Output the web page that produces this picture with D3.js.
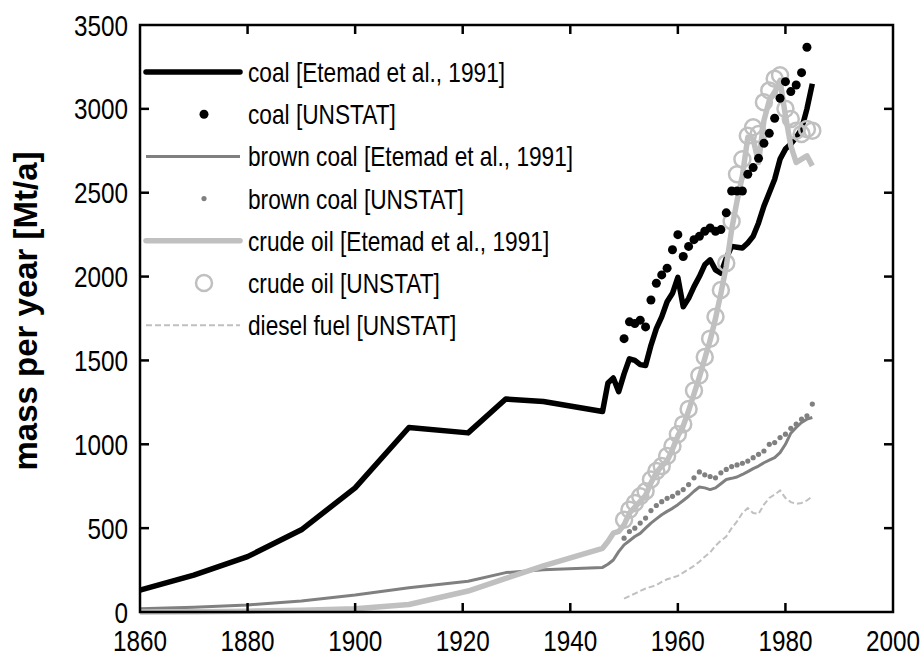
<!DOCTYPE html>
<html>
<head>
<meta charset="utf-8">
<script src="https://cdn.jsdelivr.net/npm/d3@7"></script>
<style>
  html, body { margin: 0; padding: 0; background: #fff; }
  svg { display: block; }
  text { font-family: "Liberation Sans", Arial, sans-serif; fill: #000; }
</style>
</head>
<body>
<svg id="chart" width="924" height="672"></svg>
<script>
// ---------------- data ----------------
const etemadYears = [1860, 1870, 1880, 1890, 1900, 1910, 1921, 1928, 1935, 1946,
  1947, 1948, 1949, 1950, 1951, 1952, 1953, 1954, 1955, 1956, 1957, 1958, 1959,
  1960, 1961, 1962, 1963, 1964, 1965, 1966, 1967, 1968, 1969, 1970, 1971, 1972,
  1973, 1974, 1975, 1976, 1977, 1978, 1979, 1980, 1981, 1982, 1983, 1984, 1985];

const coalEtemad = [130, 220, 330, 490, 740, 1100, 1068, 1270, 1255, 1195,
  1365, 1395, 1314, 1420, 1510, 1500, 1475, 1470, 1590, 1690, 1760, 1850, 1900,
  1995, 1820, 1870, 1940, 2000, 2070, 2100, 2040, 2020, 2110, 2180, 2175, 2170,
  2200, 2240, 2320, 2420, 2500, 2580, 2700, 2760, 2790, 2830, 2880, 3000, 3150];

const brownCoalEtemad = [20, 28, 42, 65, 101, 145, 183, 235, 252, 266,
  285, 310, 360, 400, 425, 450, 469, 500, 530, 555, 580, 600, 618,
  640, 665, 690, 720, 745, 740, 730, 740, 765, 790, 797, 805, 820,
  837, 855, 870, 890, 905, 920, 950, 1000, 1066, 1100, 1130, 1150, 1160];

const crudeOilEtemad = [0, 2, 5, 10, 20, 45, 125, 200, 275, 380,
  420, 470, 480, 520, 590, 625, 660, 695, 770, 830, 870, 900, 970,
  1050, 1110, 1200, 1300, 1400, 1510, 1620, 1750, 1900, 2060, 2280, 2450, 2600,
  2830, 2820, 2680, 2930, 3050, 3100, 3170, 2960, 2780, 2680, 2700, 2720, 2660];

const unstatYears = [1950, 1951, 1952, 1953, 1954, 1955, 1956, 1957, 1958, 1959,
  1960, 1961, 1962, 1963, 1964, 1965, 1966, 1967, 1968, 1969,
  1970, 1971, 1972, 1973, 1974, 1975, 1976, 1977, 1978, 1979,
  1980, 1981, 1982, 1983, 1984, 1985];

const coalUnstat = [1630, 1730, 1720, 1740, 1700, 1860, 1960, 2010, 2050, 2160,
  2250, 2120, 2180, 2220, 2240, 2270, 2290, 2270, 2280, 2380,
  2510, 2510, 2510, 2610, 2650, 2705, 2795, 2854, 2944, 3063,
  3162, 3103, 3142, 3216, 3367, null];

const brownCoalUnstat = [440, 480, 500, 530, 560, 605, 635, 658, 678, 690,
  710, 730, 760, 800, 835, 818, 808, 800, 830, 850,
  867, 877, 887, 900, 920, 940, 960, 1000, 1010, 1040,
  1060, 1095, 1120, 1150, 1170, 1240];

const crudeOilUnstat = [550, 610, 650, 690, 720, 790, 840, 870, 930, 990,
  1060, 1120, 1210, 1320, 1410, 1520, 1630, 1760, 1920, 2080,
  2330, 2610, 2700, 2840, 2890, 2850, 3040, 3110, 3180, 3200,
  3000, 2940, 2870, 2850, 2880, 2870];

const dieselUnstat = [80, 95, 110, 125, 140, 150, 160, 180, 195, 205,
  215, 235, 255, 275, 300, 330, 355, 395, 425, 450,
  500, 540, 590, 620, 590, 585, 640, 680, 700, 725,
  680, 655, 645, 650, 665, 690];

const xTicks = [1860, 1880, 1900, 1920, 1940, 1960, 1980, 2000];
const yTicks = [0, 500, 1000, 1500, 2000, 2500, 3000, 3500];
const legendLabels = [
  "coal [Etemad et al., 1991]",
  "coal [UNSTAT]",
  "brown coal [Etemad et al., 1991]",
  "brown coal [UNSTAT]",
  "crude oil [Etemad et al., 1991]",
  "crude oil [UNSTAT]",
  "diesel fuel [UNSTAT]"
];
const yTitle = "mass per year [Mt/a]";

// ---------------- layout ----------------
const svg = d3.select("#chart");
const L = 140, R = 893, T = 25, B = 612;
const x = d3.scaleLinear().domain([1860, 2000]).range([L, R]);
const y = d3.scaleLinear().domain([0, 3500]).range([B, T]);

const black = "#000", brownCol = "#808080", oilCol = "#c0c0c0";
const NARROW = 0.81;

function pairs(xs, vs) {
  return xs.map((yr, i) => ({ yr, v: vs[i] })).filter(d => d.v != null);
}
const line = d3.line().x(d => x(d.yr)).y(d => y(d.v));

const plot = svg.append("g");

plot.append("path").datum(pairs(etemadYears, coalEtemad))
  .attr("d", line).attr("fill", "none").attr("stroke", black)
  .attr("stroke-width", 5.5).attr("stroke-linejoin", "round");

plot.append("path").datum(pairs(etemadYears, brownCoalEtemad))
  .attr("d", line).attr("fill", "none").attr("stroke", brownCol)
  .attr("stroke-width", 3).attr("stroke-linejoin", "round");

plot.append("path").datum(pairs(unstatYears, dieselUnstat))
  .attr("d", line).attr("fill", "none").attr("stroke", oilCol)
  .attr("stroke-width", 2).attr("stroke-dasharray", "6,3");

plot.append("g").selectAll("circle").data(pairs(unstatYears, brownCoalUnstat))
  .join("circle").attr("cx", d => x(d.yr)).attr("cy", d => y(d.v))
  .attr("r", 2.6).attr("fill", brownCol);

plot.append("path").datum(pairs(etemadYears, crudeOilEtemad))
  .attr("d", line).attr("fill", "none").attr("stroke", oilCol)
  .attr("stroke-width", 5.5).attr("stroke-linejoin", "round");

plot.append("g").selectAll("circle").data(pairs(unstatYears, crudeOilUnstat))
  .join("circle").attr("cx", d => x(d.yr)).attr("cy", d => y(d.v))
  .attr("r", 8).attr("fill", "none").attr("stroke", oilCol).attr("stroke-width", 2.5);

plot.append("g").selectAll("circle").data(pairs(unstatYears, coalUnstat))
  .join("circle").attr("cx", d => x(d.yr)).attr("cy", d => y(d.v))
  .attr("r", 4.5).attr("fill", black);

// ---------------- frame & ticks ----------------
const frame = svg.append("g");
frame.append("rect").attr("x", L).attr("y", T).attr("width", R - L).attr("height", B - T)
  .attr("fill", "none").attr("stroke", black).attr("stroke-width", 2.5);

const tl = 9;
frame.selectAll(".xtb").data(xTicks.slice(1, -1)).join("line").attr("class", "xtb")
  .attr("x1", d => x(d)).attr("x2", d => x(d)).attr("y1", B).attr("y2", B - tl)
  .attr("stroke", black).attr("stroke-width", 2.5);
frame.selectAll(".xtt").data(xTicks.slice(1, -1)).join("line").attr("class", "xtt")
  .attr("x1", d => x(d)).attr("x2", d => x(d)).attr("y1", T).attr("y2", T + tl)
  .attr("stroke", black).attr("stroke-width", 2.5);
frame.selectAll(".ytl").data(yTicks.slice(1, -1)).join("line").attr("class", "ytl")
  .attr("x1", L).attr("x2", L + tl).attr("y1", d => y(d)).attr("y2", d => y(d))
  .attr("stroke", black).attr("stroke-width", 2.5);
frame.selectAll(".ytr").data(yTicks.slice(1, -1)).join("line").attr("class", "ytr")
  .attr("x1", R).attr("x2", R - tl).attr("y1", d => y(d)).attr("y2", d => y(d))
  .attr("stroke", black).attr("stroke-width", 2.5);

// tick labels (condensed look via horizontal scale)
svg.append("g").selectAll("text").data(xTicks).join("text")
  .attr("transform", d => `translate(${x(d)},651) scale(${NARROW},1)`)
  .attr("text-anchor", "middle").attr("font-size", 30)
  .text(d => d);

svg.append("g").selectAll("text").data(yTicks).join("text")
  .attr("transform", d => `translate(128,${y(d) + 10.5}) scale(${NARROW},1)`)
  .attr("text-anchor", "end").attr("font-size", 30)
  .text(d => d);

// axis title
svg.append("text")
  .attr("transform", "translate(37,311) rotate(-90)")
  .attr("text-anchor", "middle").attr("font-size", 33).attr("font-weight", "bold")
  .text(yTitle);

// ---------------- legend ----------------
const legY0 = 72, legDY = 42.2;
const lg = svg.append("g");
const lx1 = 146, lx2 = 240, mx = 204;
const rowY = i => legY0 + i * legDY;

lg.append("line").attr("x1", lx1).attr("x2", lx2).attr("y1", rowY(0)).attr("y2", rowY(0))
  .attr("stroke", black).attr("stroke-width", 5.5).attr("stroke-linecap", "round");
lg.append("circle").attr("cx", mx).attr("cy", rowY(1)).attr("r", 4.5).attr("fill", black);
lg.append("line").attr("x1", lx1).attr("x2", lx2).attr("y1", rowY(2)).attr("y2", rowY(2))
  .attr("stroke", brownCol).attr("stroke-width", 3);
lg.append("circle").attr("cx", mx).attr("cy", rowY(3)).attr("r", 2.6).attr("fill", brownCol);
lg.append("line").attr("x1", lx1).attr("x2", lx2).attr("y1", rowY(4)).attr("y2", rowY(4))
  .attr("stroke", oilCol).attr("stroke-width", 5.5).attr("stroke-linecap", "round");
lg.append("circle").attr("cx", mx).attr("cy", rowY(5)).attr("r", 8)
  .attr("fill", "none").attr("stroke", oilCol).attr("stroke-width", 2.5);
lg.append("line").attr("x1", lx1).attr("x2", lx2).attr("y1", rowY(6)).attr("y2", rowY(6))
  .attr("stroke", oilCol).attr("stroke-width", 2).attr("stroke-dasharray", "6,3");

lg.selectAll("text").data(legendLabels).join("text")
  .attr("transform", (d, i) => `translate(248,${rowY(i) + 10}) scale(${NARROW},1)`)
  .attr("font-size", 28)
  .text(d => d);
</script>
</body>
</html>
